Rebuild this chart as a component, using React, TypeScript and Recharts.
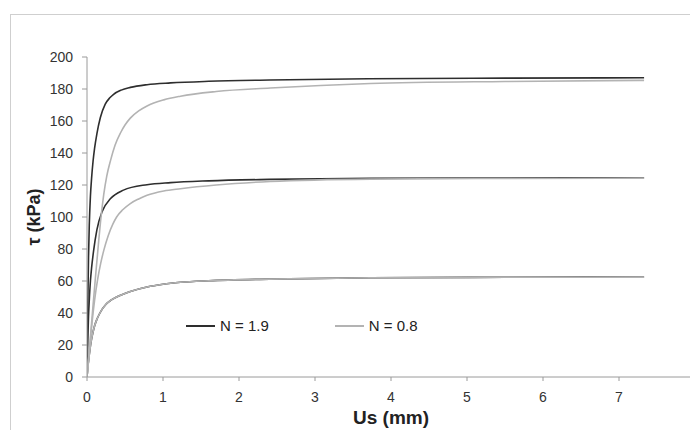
import React from 'react';
import { LineChart, Line, XAxis, YAxis, Legend, Label } from 'recharts';

// N = 1.9, upper curve
const usN19High = [0, 0.01, 0.02, 0.03, 0.045, 0.06, 0.08, 0.1, 0.13, 0.175, 0.24, 0.3, 0.35, 0.45, 0.57, 0.79, 1.1, 1.6, 2.4, 3.7, 5.5, 7.33];
const tauN19High = [0, 45, 75, 95, 113, 124, 135, 143, 152, 162, 170.5, 174.5, 176.7, 179.3, 181, 182.7, 183.8, 184.8, 185.6, 186.4, 186.8, 187];
// N = 0.8, upper curve
const usN08High = [0, 0.04, 0.08, 0.12, 0.15, 0.18, 0.22, 0.26, 0.31, 0.37, 0.44, 0.5, 0.57, 0.68, 0.79, 1.01, 1.23, 1.7, 2.41, 3.73, 5.5, 7.33];
const tauN08High = [0, 22, 45, 67, 83, 98, 114, 125.5, 135.4, 145, 152.5, 157.5, 161.8, 166.3, 169.4, 173.2, 175.5, 178.4, 180.6, 183.4, 184.7, 185.4];
// N = 1.9, middle curve
const usN19Mid = [0, 0.01, 0.02, 0.03, 0.045, 0.06, 0.087, 0.13, 0.2, 0.31, 0.48, 0.79, 1.1, 1.6, 2.4, 3.73, 5.5, 7.33];
const tauN19Mid = [0, 23, 38, 48, 60, 68, 79, 92, 103.5, 111.5, 116.8, 120.2, 121.5, 122.6, 123.5, 124.2, 124.4, 124.5];
// N = 0.8, middle curve
const usN08Mid = [0, 0.03, 0.06, 0.1, 0.14, 0.18, 0.22, 0.28, 0.34, 0.39, 0.47, 0.57, 0.68, 0.79, 1.01, 1.23, 1.7, 2.41, 3.73, 5.5, 7.33];
const tauN08Mid = [0, 16, 31, 48, 61, 71, 79, 88.5, 95.5, 100, 104.5, 108.4, 111.3, 113.6, 116.3, 117.7, 120, 122.2, 123.7, 124.1, 124.3];
// N = 1.9, lower curve
const usN19Low = [0, 0.01, 0.02, 0.03, 0.05, 0.07, 0.1, 0.13, 0.17, 0.25, 0.3, 0.39, 0.57, 0.79, 1.0, 1.23, 1.6, 2.4, 3.73, 5.5, 7.33];
const tauN19Low = [0, 5.5, 10, 14, 21, 26, 32, 36, 40, 45.5, 47.5, 50, 53.5, 56.3, 58, 59.2, 60.2, 61.2, 62, 62.3, 62.5];
// N = 0.8, lower curve (overlaps the N = 1.9 lower curve)
const usN08Low = [0, 0.01, 0.02, 0.03, 0.05, 0.07, 0.1, 0.13, 0.17, 0.25, 0.3, 0.39, 0.57, 0.79, 1.0, 1.23, 1.6, 2.4, 3.73, 5.5, 7.33];
const tauN08Low = [0, 5.5, 10, 14, 21, 26, 32, 36, 40, 45.5, 47.5, 50, 53.5, 56.3, 58, 59.2, 60.2, 61.2, 62, 62.3, 62.4];

const xTicks = [0, 1, 2, 3, 4, 5, 6, 7];
const yTicks = [0, 20, 40, 60, 80, 100, 120, 140, 160, 180, 200];

const DARK = '#2e2e2e';
const LIGHT = '#b3b3b3';
const FONT = '"Liberation Sans", Arial, sans-serif';

const legendItems = [
  { label: 'N = 1.9', color: DARK },
  { label: 'N = 0.8', color: LIGHT },
];

const toPoints = (xs: number[], ys: number[]) => xs.map((x, i) => ({ us: x, tau: ys[i] }));

const series = [
  { key: 'n19High', data: toPoints(usN19High, tauN19High), color: DARK },
  { key: 'n19Mid', data: toPoints(usN19Mid, tauN19Mid), color: DARK },
  { key: 'n19Low', data: toPoints(usN19Low, tauN19Low), color: DARK },
  { key: 'n08High', data: toPoints(usN08High, tauN08High), color: LIGHT },
  { key: 'n08Mid', data: toPoints(usN08Mid, tauN08Mid), color: LIGHT },
  { key: 'n08Low', data: toPoints(usN08Low, tauN08Low), color: LIGHT },
];

const LegendContent = () => (
  <div style={{ display: 'flex', fontFamily: FONT, fontSize: 15, color: '#222', lineHeight: '20px' }}>
    {legendItems.map((it, i) => (
      <div key={it.label} style={{ display: 'flex', alignItems: 'center', marginRight: i === 0 ? 66 : 0 }}>
        <svg width={30} height={4} style={{ marginRight: 4 }}>
          <line x1={0} y1={2} x2={29} y2={2} stroke={it.color} strokeWidth={2} />
        </svg>
        <span>{it.label}</span>
      </div>
    ))}
  </div>
);

const YTitle = (props: any) => {
  const vb = props.viewBox || { x: 0, y: 0, width: 0, height: 0 };
  const cx = 34;
  const cy = vb.y + vb.height / 2;
  return (
    <text
      x={cx}
      y={cy}
      transform={`rotate(-90 ${cx} ${cy})`}
      textAnchor="middle"
      dominantBaseline="central"
      style={{ fontFamily: FONT, fontSize: 18, fontWeight: 'bold', fill: '#222' }}
    >
      τ (kPa)
    </text>
  );
};

const XTitle = (props: any) => {
  const vb = props.viewBox || { x: 0, y: 0, width: 0, height: 0 };
  const cx = vb.x + vb.width / 2;
  return (
    <text
      x={cx}
      y={424}
      textAnchor="middle"
      style={{ fontFamily: FONT, fontSize: 19, fontWeight: 'bold', fill: '#222' }}
    >
      Us (mm)
    </text>
  );
};

export default function App() {
  return (
    <div style={{ position: 'absolute', left: 0, top: 0, width: 690, height: 430, overflow: 'hidden', background: '#fff' }}>
      <div
        style={{
          position: 'absolute',
          left: 10,
          top: 14,
          width: 700,
          height: 430,
          borderTop: '1px solid #cfcfcf',
          borderLeft: '1px solid #cfcfcf',
        }}
      />
      <div style={{ position: 'absolute', left: 0, top: 0 }}>
        <LineChart width={700} height={430} margin={{ top: 57, right: 5, bottom: 0, left: 0 }}>
          <XAxis
            dataKey="us"
            type="number"
            domain={[0, 8]}
            ticks={xTicks}
            allowDataOverflow
            height={53}
            tickSize={4}
            tickMargin={11}
            stroke="#9a9a9a"
            tick={{ fill: '#333', fontSize: 14, fontFamily: FONT }}
          >
            <Label content={<XTitle />} />
          </XAxis>
          <YAxis
            type="number"
            domain={[0, 200]}
            ticks={yTicks}
            width={87}
            tickSize={5}
            tickMargin={9}
            stroke="#9a9a9a"
            tick={{ fill: '#333', fontSize: 14, fontFamily: FONT }}
          >
            <Label content={<YTitle />} />
          </YAxis>
          <Legend
            content={<LegendContent />}
            layout="horizontal"
            verticalAlign="middle"
            align="center"
            wrapperStyle={{ position: 'absolute', left: 186, top: 316, width: 300, height: 20 }}
          />
          {series.map((s) => (
            <Line
              key={s.key}
              data={s.data}
              dataKey="tau"
              type="monotone"
              stroke={s.color}
              strokeWidth={1.6}
              dot={false}
              activeDot={false}
              legendType="none"
              isAnimationActive={false}
            />
          ))}
        </LineChart>
      </div>
    </div>
  );
}
